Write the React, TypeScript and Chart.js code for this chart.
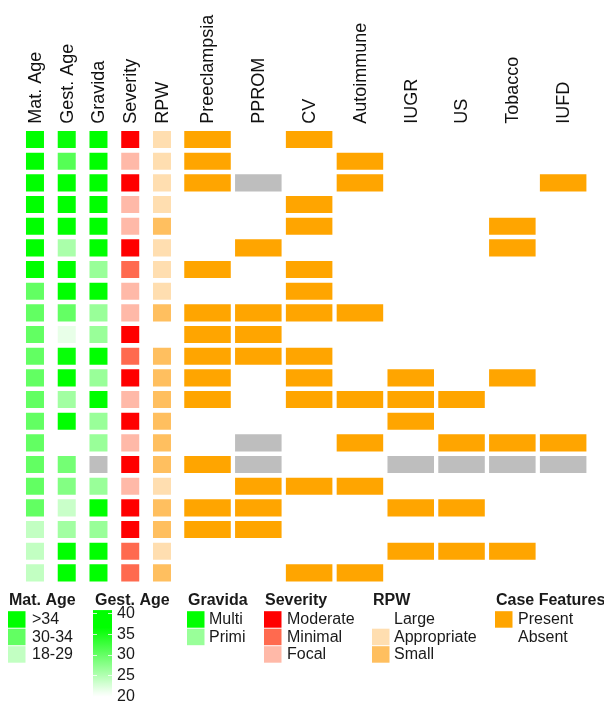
import React, { useEffect, useRef } from "react";
import { Chart, registerables } from "chart.js";
Chart.register(...registerables);

// ---------- data ----------
const cases = ["1","2","3","4","5","6","7","8","9","10","11","12","13","14","15","16","17","18","19","20","21"];
const columnNames = ["Mat. Age","Gest. Age","Gravida","Severity","RPW","Preeclampsia","PPROM","CV","Autoimmune","IUGR","US","Tobacco","IUFD"];

const matAge = [">34",">34",">34",">34",">34",">34",">34","30-34","30-34","30-34","30-34","30-34","30-34","30-34","30-34","30-34","30-34","30-34","18-29","18-29","18-29"];
const gestAge = [36, 31, 40, 40, 40, 25.5, 40, 40, 30, 21.5, 36, 40, 26, 39, null, 29, 28, 23.5, 26, 39, 39];
const gravida = ["Multi","Multi","Multi","Multi","Multi","Multi","Primi","Multi","Primi","Primi","Multi","Primi","Multi","Primi","Primi",null,"Primi","Multi","Primi","Multi","Multi"];
const severity = ["Moderate","Focal","Moderate","Focal","Focal","Moderate","Minimal","Focal","Focal","Moderate","Minimal","Moderate","Focal","Moderate","Focal","Moderate","Focal","Moderate","Moderate","Minimal","Minimal"];
const rpw = ["Appropriate","Appropriate","Appropriate","Appropriate","Small","Appropriate","Appropriate","Appropriate","Small","Large","Small","Small","Small","Small","Small","Small","Appropriate","Small","Small","Appropriate","Small"];

// 1 = Present, 0 = Absent, null = NA
const preeclampsia = [1,1,1,0,0,0,1,0,1,1,1,1,1,0,0,1,0,1,1,0,0];
const pprom        = [0,0,null,0,0,1,0,0,1,1,1,0,0,0,null,null,1,1,1,0,0];
const cv           = [1,0,0,1,1,0,1,1,1,0,1,1,1,0,0,0,1,0,0,0,1];
const autoimmune   = [0,1,1,0,0,0,0,0,1,0,0,0,1,0,1,0,1,0,0,0,1];
const iugr         = [0,0,0,0,0,0,0,0,0,0,0,1,1,1,0,null,0,1,0,1,0];
const us           = [0,0,0,0,0,0,0,0,0,0,0,0,1,0,1,null,0,1,0,1,0];
const tobacco      = [0,0,0,0,1,1,0,0,0,0,0,1,0,0,1,null,0,0,0,1,0];
const iufd         = [0,0,1,0,0,0,0,0,0,0,0,0,0,0,1,null,0,0,0,0,0];

const matAgeLevels = [">34","30-34","18-29"];
const gravidaLevels = ["Multi","Primi"];
const severityLevels = ["Moderate","Minimal","Focal"];
const rpwLevels = ["Large","Appropriate","Small"];
const caseLevels = ["Present","Absent"];
const gestTicks = [40, 35, 30, 25, 20];

// ---------- styles ----------
const matAgeColors: Record<string, string> = { ">34": "#00ff00", "30-34": "#62ff62", "18-29": "#c2ffc2" };
const gravidaColors: Record<string, string> = { Multi: "#00ff00", Primi: "#99ff99" };
const severityColors: Record<string, string> = { Moderate: "#ff0000", Minimal: "#ff6a4f", Focal: "#ffb9a8" };
const rpwColors: Record<string, string> = { Large: "#ffffff", Appropriate: "#ffdeb0", Small: "#ffbf5f" };
const caseColors: Record<string, string> = { Present: "#ffa500", Absent: "#ffffff" };
const NA_COLOR = "#bebebe";

function gestColor(v: number) {
  const t = Math.max(0, Math.min(1, (v - 20) / 16.5));
  const c = Math.round(255 * (1 - t));
  return `rgb(${c},255,${c})`;
}

const FONT = "'Liberation Sans', Arial, Helvetica, sans-serif";

// layout (in x-scale units)
const NARROW_HALF = 0.315;
const WIDE_PITCH = 1.6;
const WIDE_HALF = 0.764;
const GAP = 0.134;
const colCenters = columnNames.map((_, i) => (i < 5 ? i + 0.5 : 5 + GAP + WIDE_PITCH / 2 + (i - 5) * WIDE_PITCH));
const colHalf = columnNames.map((_, i) => (i < 5 ? NARROW_HALF : WIDE_HALF));

const legendPlugin = {
  id: "customLegend",
  afterDraw(chart: any) {
    const ctx = chart.ctx as CanvasRenderingContext2D;
    const base = chart.chartArea.bottom;
    const titleY = base + 16.5;
    const item0 = base + 27.5;
    const pitch = 17.5;
    ctx.save();
    ctx.textBaseline = "middle";
    ctx.textAlign = "left";
    const groups = [
      { title: "Mat. Age", x: 8, levels: matAgeLevels, colors: matAgeColors, lx: 24 },
      { title: "Gravida", x: 187, levels: gravidaLevels, colors: gravidaColors, lx: 22 },
      { title: "Severity", x: 264, levels: severityLevels, colors: severityColors, lx: 23 },
      { title: "RPW", x: 372, levels: rpwLevels, colors: rpwColors, lx: 22 },
      { title: "Case Features", x: 495, levels: caseLevels, colors: caseColors, lx: 23 },
    ];
    for (const g of groups) {
      ctx.font = `bold 16px ${FONT}`;
      ctx.fillStyle = "#1a1a1a";
      ctx.fillText(g.title, g.x + 1, titleY);
      g.levels.forEach((lv, i) => {
        const y = item0 + i * pitch;
        ctx.fillStyle = g.colors[lv];
        ctx.fillRect(g.x, y, 17.5, 16.5);
        ctx.font = `16px ${FONT}`;
        ctx.fillStyle = "#1a1a1a";
        ctx.fillText(lv, g.x + g.lx, y + 8.8);
      });
    }
    // Gest. Age colour bar
    const gx = 93;
    ctx.font = `bold 16px ${FONT}`;
    ctx.fillStyle = "#1a1a1a";
    ctx.fillText("Gest. Age", gx + 2, titleY);
    const y40 = base + 29.3;
    const pxPer = 4.15;
    const yOf = (v: number) => y40 + (40 - v) * pxPer;
    const vTop = 40.7, vBot = 19.8;
    const grad = ctx.createLinearGradient(0, yOf(vBot), 0, yOf(vTop));
    for (let k = 0; k <= 20; k++) {
      const v = vBot + ((vTop - vBot) * k) / 20;
      grad.addColorStop(k / 20, gestColor(v));
    }
    ctx.fillStyle = grad;
    ctx.fillRect(gx, yOf(vTop), 19, yOf(vBot) - yOf(vTop));
    ctx.strokeStyle = "rgba(255,255,255,0.8)";
    ctx.lineWidth = 1;
    gestTicks.forEach((t) => {
      const y = Math.round(yOf(t)) + 0.5;
      ctx.beginPath();
      ctx.moveTo(gx, y); ctx.lineTo(gx + 4, y);
      ctx.moveTo(gx + 15, y); ctx.lineTo(gx + 19, y);
      ctx.stroke();
      ctx.font = `16px ${FONT}`;
      ctx.fillStyle = "#1a1a1a";
      ctx.fillText(String(t), gx + 24, yOf(t) + 0.5);
    });
    ctx.restore();
  },
};

function colorFor(col: number, r: number): string | null {
  switch (col) {
    case 0: return matAgeColors[matAge[r]];
    case 1: return gestAge[r] == null ? null : gestColor(gestAge[r] as number);
    case 2: return gravida[r] == null ? NA_COLOR : gravidaColors[gravida[r] as string];
    case 3: return severityColors[severity[r]];
    case 4: return rpwColors[rpw[r]];
    default: {
      const arr = [preeclampsia, pprom, cv, autoimmune, iugr, us, tobacco, iufd][col - 5];
      const v = arr[r];
      if (v == null) return NA_COLOR;
      return v === 1 ? caseColors.Present : null;
    }
  }
}

export default function App() {
  const ref = useRef<HTMLCanvasElement>(null);
  useEffect(() => {
    if (!ref.current) return;
    const datasets = columnNames.map((name, c) => {
      const colors = cases.map((_, r) => colorFor(c, r));
      return {
        label: name,
        data: cases.map((_, r) => (colors[r] == null ? null : [colCenters[c] - colHalf[c], colCenters[c] + colHalf[c]])),
        backgroundColor: colors.map((x) => x ?? "rgba(0,0,0,0)"),
        borderColor: "rgba(255,255,255,0.55)",
        borderWidth: 1,
        borderSkipped: false,
        grouped: false,
        barPercentage: 0.88,
        categoryPercentage: 1,
      };
    });
    const chart = new Chart(ref.current, {
      type: "bar",
      data: { labels: cases, datasets: datasets as any },
      options: {
        indexAxis: "y",
        animation: false,
        responsive: false,
        events: [],
        layout: { padding: { left: 19.1, right: 7, top: 0, bottom: 120.3 } },
        plugins: { legend: { display: false }, tooltip: { enabled: false } },
        scales: {
          y: { type: "category", display: false },
          x: {
            type: "linear",
            position: "top",
            min: 0,
            max: 18.2,
            grid: { display: false, drawTicks: false },
            border: { display: false },
            afterBuildTicks: (scale: any) => {
              scale.ticks = colCenters.map((v) => ({ value: v }));
            },
            afterFit: (scale: any) => {
              scale.height = 128.7;
            },
            ticks: {
              autoSkip: false,
              minRotation: 90,
              maxRotation: 90,
              padding: 5,
              labelOffset: 22.5,
              color: "#111",
              font: { family: FONT, size: 18 },
              callback: (_v: any, i: number) => columnNames[i],
            },
          },
        },
      },
      plugins: [legendPlugin],
    });
    return () => chart.destroy();
  }, []);
  return (
    <div style={{ position: "fixed", left: 0, top: 0, width: 604, height: 704, background: "#fff" }}>
      <canvas ref={ref} width={604} height={704} />
    </div>
  );
}
